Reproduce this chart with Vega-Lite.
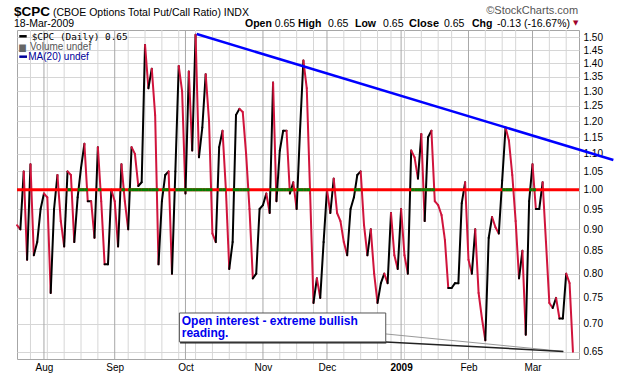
{
  "$schema": "https://vega.github.io/schema/vega-lite/v6.json",
  "width": 562,
  "height": 329,
  "autosize": "none",
  "padding": {"left": 17, "top": 30, "right": 41, "bottom": 17},
  "background": "white",
  "config": {
    "view": {"stroke": "#a6a6a6", "strokeWidth": 1},
    "text": {"font": "Liberation Sans"}
  },
  "datasets": {
    "cpc": [
      {"i":0,"d":"2008-07-22","v":0.91},{"i":1,"d":"2008-07-23","v":0.90},{"i":2,"d":"2008-07-24","v":1.05},{"i":3,"d":"2008-07-25","v":0.83},
      {"i":4,"d":"2008-07-28","v":1.07},{"i":5,"d":"2008-07-29","v":0.84},{"i":6,"d":"2008-07-30","v":0.87},{"i":7,"d":"2008-07-31","v":0.95},
      {"i":8,"d":"2008-08-01","v":0.99},{"i":9,"d":"2008-08-04","v":0.98},{"i":10,"d":"2008-08-05","v":0.76},{"i":11,"d":"2008-08-06","v":0.95},
      {"i":12,"d":"2008-08-07","v":1.04},{"i":13,"d":"2008-08-08","v":0.92},{"i":14,"d":"2008-08-11","v":0.86},{"i":15,"d":"2008-08-12","v":1.05},
      {"i":16,"d":"2008-08-13","v":1.04},{"i":17,"d":"2008-08-14","v":0.87},{"i":18,"d":"2008-08-15","v":0.98},{"i":19,"d":"2008-08-18","v":1.06},
      {"i":20,"d":"2008-08-19","v":1.13},{"i":21,"d":"2008-08-20","v":0.97},{"i":22,"d":"2008-08-21","v":0.97},{"i":23,"d":"2008-08-22","v":0.88},
      {"i":24,"d":"2008-08-25","v":1.12},{"i":25,"d":"2008-08-26","v":0.97},{"i":26,"d":"2008-08-27","v":0.82},{"i":27,"d":"2008-08-28","v":0.82},
      {"i":28,"d":"2008-08-29","v":1.00},{"i":29,"d":"2008-09-02","v":0.97},{"i":30,"d":"2008-09-03","v":0.86},{"i":31,"d":"2008-09-04","v":1.07},
      {"i":32,"d":"2008-09-05","v":0.97},{"i":33,"d":"2008-09-08","v":0.90},{"i":34,"d":"2008-09-09","v":1.12},{"i":35,"d":"2008-09-10","v":1.10},
      {"i":36,"d":"2008-09-11","v":1.01},{"i":37,"d":"2008-09-12","v":1.02},{"i":38,"d":"2008-09-15","v":1.47},{"i":39,"d":"2008-09-16","v":1.31},
      {"i":40,"d":"2008-09-17","v":1.38},{"i":41,"d":"2008-09-18","v":1.22},{"i":42,"d":"2008-09-19","v":0.82},{"i":43,"d":"2008-09-22","v":0.97},
      {"i":44,"d":"2008-09-23","v":1.04},{"i":45,"d":"2008-09-24","v":1.05},{"i":46,"d":"2008-09-25","v":0.80},{"i":47,"d":"2008-09-26","v":1.05},
      {"i":48,"d":"2008-09-29","v":1.39},{"i":49,"d":"2008-09-30","v":1.30},{"i":50,"d":"2008-10-01","v":0.99},{"i":51,"d":"2008-10-02","v":1.37},
      {"i":52,"d":"2008-10-03","v":1.11},{"i":53,"d":"2008-10-06","v":1.51},{"i":54,"d":"2008-10-07","v":1.09},{"i":55,"d":"2008-10-08","v":1.18},
      {"i":56,"d":"2008-10-09","v":1.36},{"i":57,"d":"2008-10-10","v":1.20},{"i":58,"d":"2008-10-13","v":0.89},{"i":59,"d":"2008-10-14","v":0.87},
      {"i":60,"d":"2008-10-15","v":1.12},{"i":61,"d":"2008-10-16","v":1.17},{"i":62,"d":"2008-10-17","v":1.00},{"i":63,"d":"2008-10-20","v":0.81},
      {"i":64,"d":"2008-10-21","v":0.87},{"i":65,"d":"2008-10-22","v":1.22},{"i":66,"d":"2008-10-23","v":1.24},{"i":67,"d":"2008-10-24","v":1.23},
      {"i":68,"d":"2008-10-27","v":1.10},{"i":69,"d":"2008-10-28","v":0.95},{"i":70,"d":"2008-10-29","v":0.79},{"i":71,"d":"2008-10-30","v":0.80},
      {"i":72,"d":"2008-10-31","v":0.95},{"i":73,"d":"2008-11-03","v":0.96},{"i":74,"d":"2008-11-04","v":0.99},{"i":75,"d":"2008-11-05","v":0.94},
      {"i":76,"d":"2008-11-06","v":1.33},{"i":77,"d":"2008-11-07","v":0.97},{"i":78,"d":"2008-11-10","v":1.11},{"i":79,"d":"2008-11-11","v":1.17},
      {"i":80,"d":"2008-11-12","v":1.17},{"i":81,"d":"2008-11-13","v":0.99},{"i":82,"d":"2008-11-14","v":1.02},{"i":83,"d":"2008-11-17","v":0.95},
      {"i":84,"d":"2008-11-18","v":1.17},{"i":85,"d":"2008-11-19","v":1.41},{"i":86,"d":"2008-11-20","v":1.31},{"i":87,"d":"2008-11-21","v":0.99},
      {"i":88,"d":"2008-11-24","v":0.74},{"i":89,"d":"2008-11-25","v":0.79},{"i":90,"d":"2008-11-26","v":0.75},{"i":91,"d":"2008-11-28","v":0.87},
      {"i":92,"d":"2008-12-01","v":1.00},{"i":93,"d":"2008-12-02","v":0.94},{"i":94,"d":"2008-12-03","v":1.03},{"i":95,"d":"2008-12-04","v":0.94},
      {"i":96,"d":"2008-12-05","v":0.92},{"i":97,"d":"2008-12-08","v":0.87},{"i":98,"d":"2008-12-09","v":0.84},{"i":99,"d":"2008-12-10","v":0.95},
      {"i":100,"d":"2008-12-11","v":0.98},{"i":101,"d":"2008-12-12","v":1.04},{"i":102,"d":"2008-12-15","v":1.05},{"i":103,"d":"2008-12-16","v":0.91},
      {"i":104,"d":"2008-12-17","v":0.84},{"i":105,"d":"2008-12-18","v":0.90},{"i":106,"d":"2008-12-19","v":0.80},{"i":107,"d":"2008-12-22","v":0.74},
      {"i":108,"d":"2008-12-23","v":0.78},{"i":109,"d":"2008-12-24","v":0.80},{"i":110,"d":"2008-12-26","v":0.78},{"i":111,"d":"2008-12-29","v":0.94},
      {"i":112,"d":"2008-12-30","v":0.84},{"i":113,"d":"2008-12-31","v":0.81},{"i":114,"d":"2009-01-02","v":0.95},{"i":115,"d":"2009-01-05","v":0.84},
      {"i":116,"d":"2009-01-06","v":0.80},{"i":117,"d":"2009-01-07","v":1.11},{"i":118,"d":"2009-01-08","v":1.09},{"i":119,"d":"2009-01-09","v":1.03},
      {"i":120,"d":"2009-01-12","v":1.16},{"i":121,"d":"2009-01-13","v":0.92},{"i":122,"d":"2009-01-14","v":1.15},{"i":123,"d":"2009-01-15","v":1.17},
      {"i":124,"d":"2009-01-16","v":0.97},{"i":125,"d":"2009-01-20","v":0.96},{"i":126,"d":"2009-01-21","v":0.935},{"i":127,"d":"2009-01-22","v":0.875},
      {"i":128,"d":"2009-01-23","v":0.77},{"i":129,"d":"2009-01-26","v":0.77},{"i":130,"d":"2009-01-27","v":0.78},{"i":131,"d":"2009-01-28","v":0.78},
      {"i":132,"d":"2009-01-29","v":0.965},{"i":133,"d":"2009-01-30","v":1.02},{"i":134,"d":"2009-02-02","v":0.83},{"i":135,"d":"2009-02-03","v":0.80},
      {"i":136,"d":"2009-02-04","v":0.90},{"i":137,"d":"2009-02-05","v":0.76},{"i":138,"d":"2009-02-06","v":0.71},{"i":139,"d":"2009-02-09","v":0.67},
      {"i":140,"d":"2009-02-10","v":0.88},{"i":141,"d":"2009-02-11","v":0.93},{"i":142,"d":"2009-02-12","v":0.905},{"i":143,"d":"2009-02-13","v":0.89},
      {"i":144,"d":"2009-02-17","v":1.025},{"i":145,"d":"2009-02-18","v":1.18},{"i":146,"d":"2009-02-19","v":1.14},{"i":147,"d":"2009-02-20","v":1.04},
      {"i":148,"d":"2009-02-23","v":0.92},{"i":149,"d":"2009-02-24","v":0.79},{"i":150,"d":"2009-02-25","v":0.85},{"i":151,"d":"2009-02-26","v":0.68},
      {"i":152,"d":"2009-02-27","v":0.97},{"i":153,"d":"2009-03-02","v":1.07},{"i":154,"d":"2009-03-03","v":0.95},{"i":155,"d":"2009-03-04","v":0.95},
      {"i":156,"d":"2009-03-05","v":1.02},{"i":157,"d":"2009-03-06","v":0.87},{"i":158,"d":"2009-03-09","v":0.74},{"i":159,"d":"2009-03-10","v":0.73},
      {"i":160,"d":"2009-03-11","v":0.75},{"i":161,"d":"2009-03-12","v":0.71},{"i":162,"d":"2009-03-13","v":0.71},{"i":163,"d":"2009-03-16","v":0.80},
      {"i":164,"d":"2009-03-17","v":0.78},{"i":165,"d":"2009-03-18","v":0.65}
    ],
    "weeks": [
      {"i":4},{"i":9},{"i":14},{"i":19},{"i":24},{"i":33},{"i":38},{"i":43},{"i":48},{"i":53},{"i":58},{"i":63},{"i":68},
      {"i":78},{"i":83},{"i":88},{"i":97},{"i":102},{"i":107},{"i":111},{"i":115},{"i":120},{"i":125},{"i":129},
      {"i":139},{"i":144},{"i":148},{"i":158},{"i":163}
    ],
    "months": [
      {"i":8,"m":"Aug"},{"i":29,"m":"Sep"},{"i":50,"m":"Oct"},{"i":73,"m":"Nov"},{"i":92,"m":"Dec"},{"i":114,"m":"2009"},{"i":134,"m":"Feb"},{"i":153,"m":"Mar"}
    ],
    "trend": [
      {"i": 53.34, "v": 1.513},
      {"i": 177.0, "v": 1.0824}
    ]
  },
  "layer": [
    {
      "data": {"name": "weeks"},
      "mark": {"type": "rule", "color": "#d6d6d6", "strokeWidth": 1},
      "encoding": {
        "x": {
          "field": "i", "type": "quantitative",
          "scale": {"domain": [0, 166.8], "nice": false, "zero": false},
          "axis": {
            "title": null,
            "values": [8, 29, 50, 73, 92, 114, 134, 153],
            "grid": false,
            "ticks": false,
            "domain": false,
            "labelExpr": "datum.value == 8 ? 'Aug' : datum.value == 29 ? 'Sep' : datum.value == 50 ? 'Oct' : datum.value == 73 ? 'Nov' : datum.value == 92 ? 'Dec' : datum.value == 114 ? '2009' : datum.value == 134 ? 'Feb' : 'Mar'",
            "labelFont": "Liberation Sans",
            "labelFontSize": 10,
            "labelColor": "#000000",
            "labelFontWeight": {"condition": {"test": "datum.value == 114", "value": "bold"}, "value": "normal"},
            "labelPadding": 3,
            "labelOverlap": false,
            "labelFlush": false,
            "labelBound": false
          }
        }
      }
    },
    {
      "data": {"name": "months"},
      "mark": {"type": "rule", "color": "#a8a8a8", "strokeWidth": 1},
      "encoding": {"x": {"field": "i", "type": "quantitative"}}
    },
    {
      "data": {"name": "cpc"},
      "transform": [
        {"window": [{"op": "lead", "field": "v", "as": "v2"}, {"op": "lead", "field": "i", "as": "i2"}], "sort": [{"field": "i"}]},
        {"filter": "datum.i2 != null"}
      ],
      "mark": {"type": "rule", "strokeWidth": 2, "strokeCap": "round"},
      "encoding": {
        "x": {"field": "i", "type": "quantitative"},
        "x2": {"field": "i2"},
        "y": {
          "field": "v", "type": "quantitative",
          "scale": {"type": "log", "domain": [0.6375, 1.5294], "nice": false},
          "axis": {
            "title": null,
            "orient": "right",
            "values": [0.65,0.7,0.75,0.8,0.85,0.9,0.95,1.0,1.05,1.1,1.15,1.2,1.25,1.3,1.35,1.4,1.45,1.5],
            "format": ".2f",
            "grid": true,
            "gridColor": "#d6d6d6",
            "ticks": false,
            "domain": false,
            "labelFont": "Liberation Sans",
            "labelFontSize": 10,
            "labelColor": "#000000",
            "labelPadding": 4,
            "labelOverlap": false,
            "labelBound": false,
            "labelFlush": false
          }
        },
        "y2": {"field": "v2"},
        "color": {"condition": {"test": "datum.v2 >= datum.v", "value": "#000000"}, "value": "#d0143c"}
      }
    },
    {
      "data": {"values": [{}]},
      "mark": {"type": "rule", "color": "#ff0000", "strokeWidth": 3},
      "encoding": {"y": {"datum": 1}}
    },
    {
      "data": {"name": "cpc"},
      "transform": [
        {"window": [{"op": "lead", "field": "v", "as": "v2"}, {"op": "lead", "field": "i", "as": "i2"}], "sort": [{"field": "i"}]},
        {"filter": "datum.i2 != null && (datum.v + datum.v2) / 2 > 1"}
      ],
      "mark": {"type": "rule", "color": "#008000", "strokeWidth": 3},
      "encoding": {
        "x": {"field": "i", "type": "quantitative"},
        "x2": {"field": "i2"},
        "y": {"datum": 1}
      }
    },
    {
      "data": {"name": "trend"},
      "mark": {"type": "line", "color": "#0000ff", "strokeWidth": 2.5, "clip": false},
      "encoding": {
        "x": {"field": "i", "type": "quantitative"},
        "y": {"field": "v", "type": "quantitative"}
      }
    },
    {
      "data": {"values": [{}]},
      "mark": {"type": "rule", "color": "#999999", "strokeWidth": 1},
      "encoding": {"x": {"datum": 109.44}, "x2": {"datum": 162.15}, "y": {"datum": 0.6814}, "y2": {"datum": 0.6505}}
    },
    {
      "data": {"values": [{}]},
      "mark": {"type": "rule", "color": "#222222", "strokeWidth": 1.5},
      "encoding": {"x": {"datum": 109.44}, "x2": {"datum": 162.15}, "y": {"datum": 0.6668}, "y2": {"datum": 0.6505}}
    },
    {
      "data": {"values": [{}]},
      "mark": {"type": "rule", "color": "#222222", "strokeWidth": 2},
      "encoding": {"x": {"datum": 48.4}, "x2": {"datum": 109.6}, "y": {"datum": 0.6663}}
    },
    {
      "data": {"values": [{}]},
      "mark": {"type": "rect", "fill": "#ffffff", "stroke": "#555555", "strokeWidth": 1},
      "encoding": {"x": {"datum": 48.2}, "x2": {"datum": 109.44}, "y": {"datum": 0.7205}, "y2": {"datum": 0.6672}}
    },
    {
      "data": {"values": [{}]},
      "mark": {"type": "text", "text": ["Open interest - extreme bullish", "reading."], "align": "left", "baseline": "alphabetic", "lineHeight": 12.2, "font": "Liberation Sans", "fontSize": 12, "fontWeight": "bold", "color": "#0000ee"},
      "encoding": {"x": {"datum": 48.89}, "y": {"datum": 0.6979}}
    },
    {
      "data": {"values": [{}]},
      "mark": {"type": "rule", "color": "#000000", "strokeWidth": 2.5},
      "encoding": {"x": {"datum": 0.68}, "x2": {"datum": 2.88}, "y": {"datum": 1.504}}
    },
    {
      "data": {"values": [{}]},
      "mark": {"type": "text", "text": "$CPC (Daily) 0.65", "align": "left", "baseline": "alphabetic", "font": "DejaVu Sans Mono", "fontSize": 9.4, "color": "#000000"},
      "encoding": {"x": {"datum": 4.36}, "y": {"datum": 1.4893}}
    },
    {
      "data": {"values": [{}]},
      "mark": {"type": "text", "text": "▆", "align": "left", "baseline": "alphabetic", "font": "DejaVu Sans", "fontSize": 8.5, "color": "#666666"},
      "encoding": {"x": {"datum": 0.7}, "y": {"datum": 1.4502}}
    },
    {
      "data": {"values": [{}]},
      "mark": {"type": "text", "text": "Volume undef", "align": "left", "baseline": "alphabetic", "font": "Liberation Sans", "fontSize": 10, "color": "#555555"},
      "encoding": {"x": {"datum": 3.86}, "y": {"datum": 1.4502}}
    },
    {
      "data": {"values": [{}]},
      "mark": {"type": "rule", "color": "#000099", "strokeWidth": 2.5},
      "encoding": {"x": {"datum": 0.68}, "x2": {"datum": 2.97}, "y": {"datum": 1.4246}}
    },
    {
      "data": {"values": [{}]},
      "mark": {"type": "text", "text": "MA(20) undef", "align": "left", "baseline": "alphabetic", "font": "Liberation Sans", "fontSize": 10, "color": "#000099"},
      "encoding": {"x": {"datum": 3.35}, "y": {"datum": 1.4121}}
    },
    {
      "data": {"values": [{}]},
      "mark": {"type": "text", "text": "$CPC", "align": "left", "baseline": "alphabetic", "font": "Liberation Sans", "fontSize": 13.5, "fontWeight": "bold", "color": "#000000"},
      "encoding": {"x": {"datum": -0.89}, "y": {"datum": 1.5874}}
    },
    {
      "data": {"values": [{}]},
      "mark": {"type": "text", "text": "(CBOE Options Total Put/Call Ratio) INDX", "align": "left", "baseline": "alphabetic", "font": "Liberation Sans", "fontSize": 10.5, "color": "#000000"},
      "encoding": {"x": {"datum": 10.69}, "y": {"datum": 1.5874}}
    },
    {
      "data": {"values": [{}]},
      "mark": {"type": "text", "text": "18-Mar-2009", "align": "left", "baseline": "alphabetic", "font": "Liberation Sans", "fontSize": 10.5, "color": "#000000"},
      "encoding": {"x": {"datum": -0.89}, "y": {"datum": 1.5425}}
    },
    {
      "data": {"values": [{}]},
      "mark": {"type": "text", "text": "©StockCharts.com", "align": "right", "baseline": "alphabetic", "font": "Liberation Sans", "fontSize": 11, "color": "#555555"},
      "encoding": {"x": {"datum": 166.52}, "y": {"datum": 1.5959}}
    },
    {
      "data": {"values": [{}]},
      "mark": {"type": "text", "text": "Open", "align": "left", "baseline": "alphabetic", "font": "Liberation Sans", "fontSize": 10.5, "fontWeight": "bold", "color": "#000000"},
      "encoding": {"x": {"datum": 67.68}, "y": {"datum": 1.5425}}
    },
    {
      "data": {"values": [{}]},
      "mark": {"type": "text", "text": "0.65", "align": "left", "baseline": "alphabetic", "font": "Liberation Sans", "fontSize": 10.5, "color": "#000000"},
      "encoding": {"x": {"datum": 76.5}, "y": {"datum": 1.5425}}
    },
    {
      "data": {"values": [{}]},
      "mark": {"type": "text", "text": "High", "align": "left", "baseline": "alphabetic", "font": "Liberation Sans", "fontSize": 10.5, "fontWeight": "bold", "color": "#000000"},
      "encoding": {"x": {"datum": 83.41}, "y": {"datum": 1.5425}}
    },
    {
      "data": {"values": [{}]},
      "mark": {"type": "text", "text": "0.65", "align": "left", "baseline": "alphabetic", "font": "Liberation Sans", "fontSize": 10.5, "color": "#000000"},
      "encoding": {"x": {"datum": 92.31}, "y": {"datum": 1.5425}}
    },
    {
      "data": {"values": [{}]},
      "mark": {"type": "text", "text": "Low", "align": "left", "baseline": "alphabetic", "font": "Liberation Sans", "fontSize": 10.5, "fontWeight": "bold", "color": "#000000"},
      "encoding": {"x": {"datum": 100.33}, "y": {"datum": 1.5425}}
    },
    {
      "data": {"values": [{}]},
      "mark": {"type": "text", "text": "0.65", "align": "left", "baseline": "alphabetic", "font": "Liberation Sans", "fontSize": 10.5, "color": "#000000"},
      "encoding": {"x": {"datum": 108.64}, "y": {"datum": 1.5425}}
    },
    {
      "data": {"values": [{}]},
      "mark": {"type": "text", "text": "Close", "align": "left", "baseline": "alphabetic", "font": "Liberation Sans", "fontSize": 11, "fontWeight": "bold", "color": "#000000"},
      "encoding": {"x": {"datum": 116.36}, "y": {"datum": 1.5425}}
    },
    {
      "data": {"values": [{}]},
      "mark": {"type": "text", "text": "0.65", "align": "left", "baseline": "alphabetic", "font": "Liberation Sans", "fontSize": 10.5, "color": "#000000"},
      "encoding": {"x": {"datum": 126.74}, "y": {"datum": 1.5425}}
    },
    {
      "data": {"values": [{}]},
      "mark": {"type": "text", "text": "Chg", "align": "left", "baseline": "alphabetic", "font": "Liberation Sans", "fontSize": 10.5, "fontWeight": "bold", "color": "#000000"},
      "encoding": {"x": {"datum": 135.05}, "y": {"datum": 1.5425}}
    },
    {
      "data": {"values": [{}]},
      "mark": {"type": "text", "text": "-0.13 (-16.67%)", "align": "left", "baseline": "alphabetic", "font": "Liberation Sans", "fontSize": 10.5, "color": "#000000"},
      "encoding": {"x": {"datum": 142.48}, "y": {"datum": 1.5425}}
    },
    {
      "data": {"values": [{}]},
      "mark": {"type": "text", "text": "▼", "align": "center", "baseline": "middle", "font": "DejaVu Sans", "fontSize": 7, "color": "#a0002a"},
      "encoding": {"x": {"datum": 165.78}, "y": {"datum": 1.5561}}
    }
  ]
}
